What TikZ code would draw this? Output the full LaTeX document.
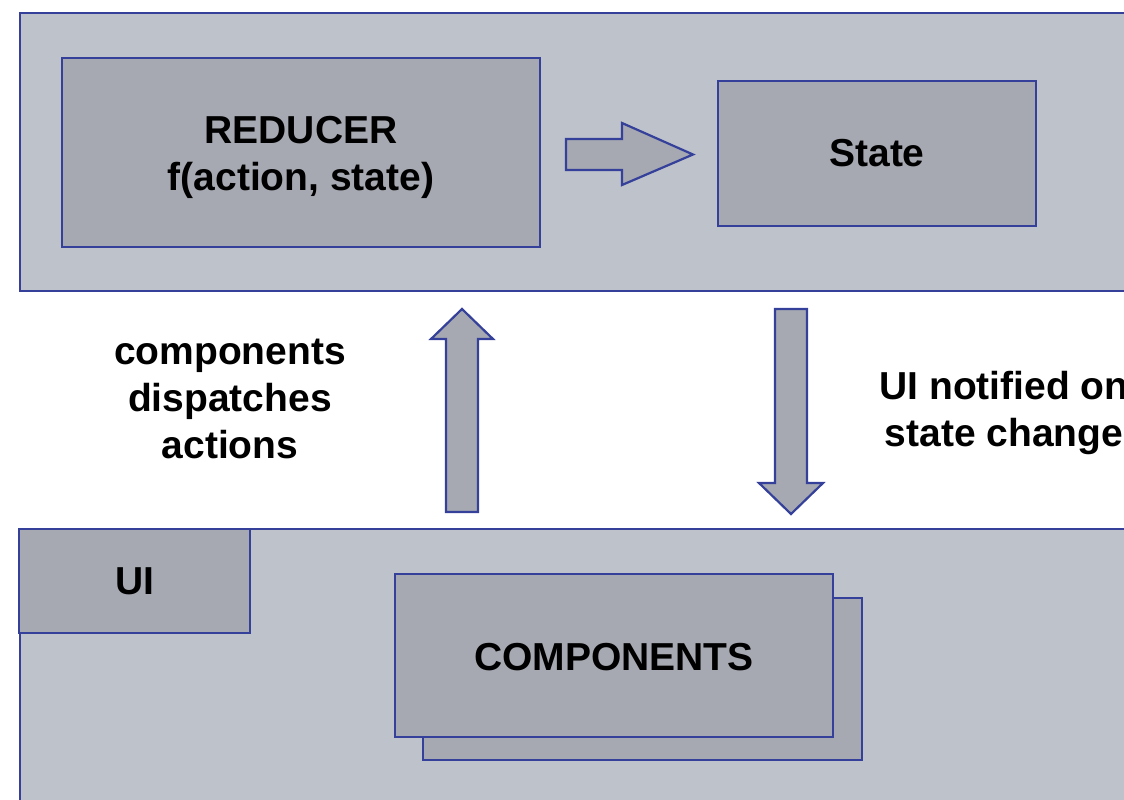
\documentclass[tikz,border=0pt]{standalone}
\usepackage{fontspec}
\setmainfont{Liberation Sans}
\definecolor{edge}{HTML}{34409A}
\definecolor{panel}{HTML}{BEC2CB}
\definecolor{block}{HTML}{A6A9B1}
\begin{document}
\begin{tikzpicture}[x=1pt,y=-1pt,
  panelbox/.style={draw=edge,line width=2.5pt,fill=panel},
  blockbox/.style={draw=edge,line width=2.5pt,fill=block},
  fatarrow/.style={draw=edge,line width=2.2pt,fill=block,line join=miter},
  lbl/.style={font=\bfseries\fontsize{39}{47}\selectfont,text=black,align=center,inner sep=0pt}]
\useasboundingbox (0,0) rectangle (1124,800);
\clip (0,0) rectangle (1124,800);
% store panel (top) and UI panel (bottom)
\draw[panelbox] (20,13) rectangle (1140,291);
\draw[panelbox] (20,529) rectangle (1140,820);
% store contents
\node[blockbox,minimum width=478pt,minimum height=189pt,inner sep=0pt] (reducer) at (301,152.5) {};
\node[lbl] at (301,157.5) {REDUCER\\f(action, state)};
\node[blockbox,minimum width=318pt,minimum height=145pt,inner sep=0pt] (state) at (877,153.5) {};
\node[lbl] at (state) {State};
% reducer produces state
\draw[fatarrow] (566,139) -- (622,139) -- (622,123) -- (693,154.5) -- (622,185) -- (622,170) -- (566,170) -- cycle;
% UI tab and stacked components
\node[blockbox,minimum width=231pt,minimum height=104pt,inner sep=0pt] (ui) at (134.5,581) {};
\node[lbl] at (ui) {UI};
\node[blockbox,minimum width=439pt,minimum height=162pt,inner sep=0pt] (compback) at (642.5,679) {};
\node[blockbox,minimum width=438pt,minimum height=163pt,inner sep=0pt] (comp) at (614,655.5) {};
\node[lbl] at (614,657.5) {COMPONENTS};
% dispatch up, notify down
\draw[fatarrow] (462,309) -- (493,339) -- (478,339) -- (478,512) -- (446,512) -- (446,339) -- (431,339) -- cycle;
\draw[fatarrow] (775,309) -- (807,309) -- (807,483) -- (823,483) -- (791,514) -- (759,483) -- (775,483) -- cycle;
\node[lbl] (dispatch) at (230,399) {components\\dispatches\\actions};
\node[lbl] (notify) at (1004,413) {UI notified on\\state change};
\end{tikzpicture}
\end{document}
